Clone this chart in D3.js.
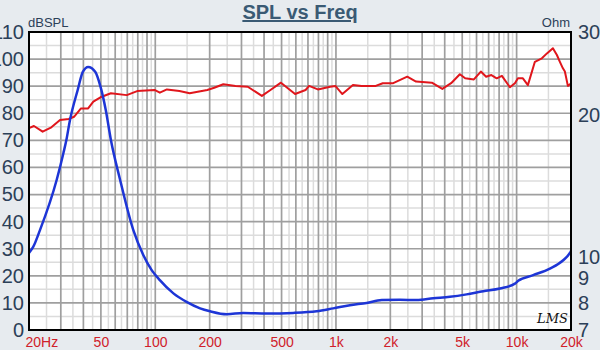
<!DOCTYPE html>
<html>
<head>
<meta charset="utf-8">
<script src="https://cdn.jsdelivr.net/npm/d3@7"></script>
<style>
  html, body { margin: 0; padding: 0; background: #e7ebef; }
  svg { display: block; font-family: "Liberation Sans", Arial, sans-serif; }
</style>
</head>
<body>
<svg id="chart" width="600" height="350"></svg>
<script>
// Frequency response (dB SPL) and impedance (Ohm) of the driver
const splFreq = [20, 21.3, 23.8, 26.6, 29.7, 33.2, 35.5, 38.8, 42.5, 45.4, 49.7, 56.8, 69.5, 79.4, 99,
  106, 116, 136, 155, 194, 212, 238, 278, 325, 389, 434, 496, 594, 679, 710, 794, 929, 992, 1085,
  1242, 1387, 1661, 1816, 2075, 2481, 2775, 3395, 3880, 4340, 4850, 5190, 5800, 6340, 6780, 7250,
  7760, 8290, 9180, 9785, 10170, 10835, 11545, 12620, 13800, 14715, 15880, 16710, 17360, 18040,
  18500, 19220, 20000];
const splDb = [74.5, 75.3, 73.2, 74.8, 77.5, 77.9, 78.7, 81.8, 81.8, 84.3, 85.9, 87.4, 86.7, 88.2, 88.6,
  87.6, 88.8, 88.2, 87.4, 88.6, 89.4, 90.7, 90.1, 89.8, 86.4, 88.6, 91.3, 87.1, 88.6, 90.1, 88.8, 89.8, 90.1, 87.1,
  90.4, 90.1, 90.1, 91.1, 91.1, 93.5, 91.7, 91.3, 89.0, 91.1, 94.4, 92.9, 92.5, 95.4, 93.5, 94.1,
  92.9, 93.8, 89.6, 91.1, 92.9, 92.9, 90.4, 99.0, 100.3, 102.1, 104.0, 101.5, 99.0, 96.6,
  95.4, 90.1, 91.0];

const impFreq = [20, 21.1, 23.0, 28.5, 31.0, 32.2, 33.7, 37.2, 39.7, 42.5, 46.5, 49.7, 53.2, 56.8, 63.8,
  75.6, 85.8, 95.5, 106, 126, 149, 177, 201, 249, 307, 414, 580, 782, 966, 1195, 1479, 1791, 2260,
  2797, 3455, 4274, 5287, 6534, 8084, 9785, 10205, 12355, 15285, 18110, 19720, 20000];
const impOhm = [10.2, 10.5, 11.4, 14.6, 16.6, 17.7, 19.5, 22.6, 24.7, 25.3, 24.7, 23.0, 20.5, 17.7, 14.6,
  11.4, 10.1, 9.38, 8.93, 8.37, 8.03, 7.78, 7.67, 7.56, 7.61, 7.59, 7.61, 7.67, 7.78, 7.90, 7.99, 8.10, 8.11,
  8.10, 8.17, 8.23, 8.33, 8.46, 8.57, 8.78, 8.90, 9.15, 9.45, 9.84, 10.2, 10.3];

const xTicks = [20, 50, 100, 200, 500, 1000, 2000, 5000, 10000, 20000];
const xTickLabels = ["20Hz", "50", "100", "200", "500", "1k", "2k", "5k", "10k", "20k"];
const dbTicks = [0, 10, 20, 30, 40, 50, 60, 70, 80, 90, 100, 110];
const ohmTicks = [7, 8, 9, 10, 20, 30];

const svg = d3.select("#chart");
const L = 29, R = 571, T = 32, B = 330;

const x = d3.scaleLog().domain([20, 20000]).range([L, R]);
const yDb = d3.scaleLinear().domain([0, 110]).range([B, T]);
const yOhm = d3.scaleLog().domain([7, 30]).range([B, T]);

svg.append("rect").attr("width", 600).attr("height", 350).attr("fill", "#e7ebef");
svg.append("rect").attr("x", L).attr("y", T).attr("width", R - L).attr("height", B - T).attr("fill", "#ffffff");

// log grid: whole multiples dark, half multiples light
const minorF = [], majorF = [];
[10, 100, 1000, 10000].forEach(dec => {
  for (let k = 1; k <= 9; k++) {
    const f = k * dec, h = (k + 0.5) * dec;
    if (f > 20 && f < 20000) majorF.push(f);
    if (h > 20 && h < 20000) minorF.push(h);
  }
});
const minorDb = d3.range(5, 110, 10);
const majorDb = d3.range(10, 110, 10);

const grid = svg.append("g");
grid.selectAll(".vmin").data(minorF).join("line")
  .attr("x1", d => x(d)).attr("x2", d => x(d)).attr("y1", T).attr("y2", B)
  .attr("stroke", "#dcdcdc").attr("stroke-width", 1.5);
grid.selectAll(".hmin").data(minorDb).join("line")
  .attr("x1", L).attr("x2", R).attr("y1", d => yDb(d)).attr("y2", d => yDb(d))
  .attr("stroke", "#dcdcdc").attr("stroke-width", 1.5);
grid.selectAll(".vmaj").data(majorF).join("line")
  .attr("x1", d => x(d)).attr("x2", d => x(d)).attr("y1", T).attr("y2", B)
  .attr("stroke", "#9f9f9f").attr("stroke-width", 1.7);
grid.selectAll(".hmaj").data(majorDb).join("line")
  .attr("x1", L).attr("x2", R).attr("y1", d => yDb(d)).attr("y2", d => yDb(d))
  .attr("stroke", "#9f9f9f").attr("stroke-width", 1.7);

// curves
const splLine = d3.line().x(d => x(d[0])).y(d => yDb(d[1]));
svg.append("path")
  .datum(d3.zip(splFreq, splDb))
  .attr("d", splLine)
  .attr("fill", "none").attr("stroke", "#e0161c").attr("stroke-width", 2)
  .attr("stroke-linejoin", "round");

const impLine = d3.line().x(d => x(d[0])).y(d => yOhm(d[1])).curve(d3.curveMonotoneX);
svg.append("path")
  .datum(d3.zip(impFreq, impOhm))
  .attr("d", impLine)
  .attr("fill", "none").attr("stroke", "#1d35d6").attr("stroke-width", 2.5)
  .attr("stroke-linejoin", "round");

// frame
svg.append("rect").attr("x", L).attr("y", T).attr("width", R - L).attr("height", B - T)
  .attr("fill", "none").attr("stroke", "#000").attr("stroke-width", 2);

// axes
const axisCol = "#2c4058";
const gl = svg.append("g").attr("transform", `translate(${L},0)`)
  .call(d3.axisLeft(yDb).tickValues(dbTicks).tickSize(0).tickPadding(5));
gl.select(".domain").remove();
gl.selectAll("text").attr("fill", axisCol).style("font-size", "20px");

const gr = svg.append("g").attr("transform", `translate(${R},0)`)
  .call(d3.axisRight(yOhm).tickValues(ohmTicks).tickFormat(d3.format("d")).tickSize(0).tickPadding(7));
gr.select(".domain").remove();
gr.selectAll("text").attr("fill", axisCol).style("font-size", "20px");

const gb = svg.append("g").attr("transform", `translate(0,${B})`)
  .call(d3.axisBottom(x).tickValues(xTicks).tickFormat((d, i) => xTickLabels[i]).tickSize(0).tickPadding(7));
gb.select(".domain").remove();
gb.selectAll("text").attr("fill", "#d0202a").style("font-size", "14px");
gb.selectAll("text").filter((d, i) => i === 0).attr("text-anchor", "start").attr("dx", -4);

// titles and unit labels
svg.append("text").attr("x", 300).attr("y", 19).attr("text-anchor", "middle")
  .attr("fill", "#3a5a74").style("font-size", "20px").style("font-weight", "bold")
  .style("text-decoration", "underline").text("SPL vs Freq");
svg.append("text").attr("x", 28).attr("y", 27).attr("fill", axisCol)
  .style("font-size", "13px").text("dBSPL");
svg.append("text").attr("x", 570).attr("y", 27).attr("text-anchor", "end").attr("fill", axisCol)
  .style("font-size", "13px").text("Ohm");
svg.append("text").attr("x", 537).attr("y", 323).attr("fill", "#111")
  .style("font-size", "13px").style("font-style", "italic").style("font-family", "'DejaVu Serif', serif")
  .text("LMS");
</script>
</body>
</html>
